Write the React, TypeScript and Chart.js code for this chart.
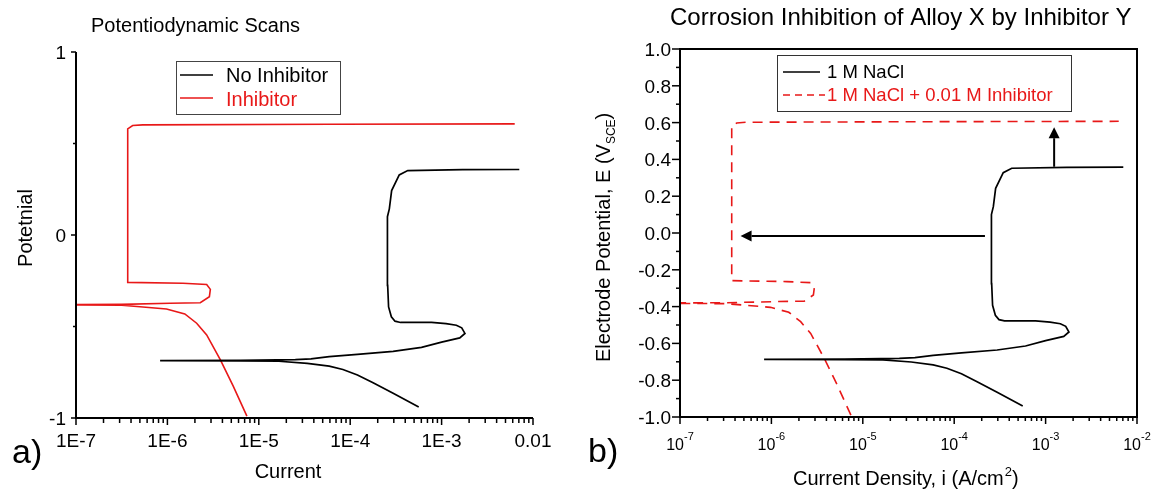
import React, { useEffect, useRef } from 'react';
import { Chart, registerables } from 'chart.js';

Chart.register(...registerables);

// ---------------- data (current in A or A/cm², potential in V) ----------------
const noInhibitorCurrent = [
  5.62e-4, 2.95e-4, 1.78e-4, 1.2e-4, 8.32e-5, 5.89e-5, 3.39e-5, 1.66e-5, 6.31e-6, 8.32e-7,
  6.31e-6, 2.51e-5, 3.72e-5, 5.89e-5, 1.2e-4, 2.95e-4, 6.03e-4, 1.0e-3, 1.58e-3, 1.8e-3,
  1.66e-3, 1.45e-3, 1.12e-3, 7.76e-4, 3.55e-4, 3.09e-4, 2.82e-4, 2.63e-4, 2.57e-4, 2.54e-4,
  2.57e-4, 2.68e-4, 2.84e-4, 3.44e-4, 4.26e-4, 1.7e-3, 7.08e-3,
];
const noInhibitorPotential = [
  -0.94, -0.865, -0.808, -0.765, -0.735, -0.717, -0.701, -0.69, -0.688, -0.687,
  -0.685, -0.681, -0.677, -0.665, -0.652, -0.636, -0.614, -0.585, -0.562, -0.538,
  -0.507, -0.493, -0.484, -0.478, -0.478, -0.471, -0.447, -0.393, -0.275, 0.0,
  0.1, 0.143, 0.243, 0.328, 0.352, 0.357, 0.358,
];
const inhibitorCurrent = [
  7.41e-6, 5.25e-6, 3.8e-6, 2.69e-6, 2.09e-6, 1.55e-6, 9.77e-7, 5.01e-7, 3.16e-7, 3.0e-8,
  3.16e-7, 1.07e-6, 2.29e-6, 2.88e-6, 2.95e-6, 2.69e-6, 1.48e-6, 3.68e-7, 3.68e-7, 4.17e-7,
  5.37e-7, 5.89e-5, 6.31e-3,
];
const inhibitorPotential = [
  -0.99, -0.826, -0.683, -0.546, -0.482, -0.431, -0.404, -0.392, -0.384, -0.381,
  -0.379, -0.373, -0.37, -0.337, -0.297, -0.27, -0.264, -0.259, 0.58, 0.598,
  0.602, 0.605, 0.607,
];

// ---------------- axes / labels ----------------
const currentDecades = [1e-7, 1e-6, 1e-5, 1e-4, 1e-3, 1e-2];
const minorMultipliers = [2, 3, 4, 5, 6, 7, 8, 9];
const panelAXTickLabels = ['1E-7', '1E-6', '1E-5', '1E-4', '1E-3', '0.01'];
const panelBXTickExponents = ['-7', '-6', '-5', '-4', '-3', '-2'];
const panelAYTicks = [-1, 0, 1];
const panelAYTickLabels = ['-1', '0', '1'];
const panelAYMinorTicks = [-0.5, 0.5];
const panelBYTicks = [-1.0, -0.8, -0.6, -0.4, -0.2, 0.0, 0.2, 0.4, 0.6, 0.8, 1.0];
const panelBYTickLabels = ['-1.0', '-0.8', '-0.6', '-0.4', '-0.2', '0.0', '0.2', '0.4', '0.6', '0.8', '1.0'];
const panelBYMinorTicks = [-0.9, -0.7, -0.5, -0.3, -0.1, 0.1, 0.3, 0.5, 0.7, 0.9];

const panelATitle = 'Potentiodynamic Scans';
const panelAXTitle = 'Current';
const panelAYTitle = 'Potetnial';
const panelALegend = ['No Inhibitor', 'Inhibitor'];
const panelBTitle = 'Corrosion Inhibition of Alloy X by Inhibitor Y';
const panelBXTitle = ['Current Density, i (A/cm', '2', ')'];
const panelBYTitle = ['Electrode Potential, E (V', 'SCE', ')'];
const panelBLegend = ['1 M NaCl', '1 M NaCl + 0.01 M Inhibitor'];

// arrows in data units: [current, potential]
const arrowLeftFrom = [2.17e-4, -0.016];
const arrowLeftTo = [4.6e-7, -0.016];
const arrowUpFrom = [1.24e-3, 0.36];
const arrowUpTo = [1.24e-3, 0.575];

const FF = '"Liberation Sans", Arial, Helvetica, sans-serif';
const RED = 'rgb(232,24,24)';
const BLACK = '#000000';

const toPoints = (xs: number[], ys: number[]) => xs.map((x, i) => ({ x, y: ys[i] }));

function line(ctx: CanvasRenderingContext2D, x1: number, y1: number, x2: number, y2: number) {
  ctx.beginPath();
  ctx.moveTo(x1, y1);
  ctx.lineTo(x2, y2);
  ctx.stroke();
}

function drawXTicks(chart: any, major: number, minor: number) {
  const ctx = chart.ctx as CanvasRenderingContext2D;
  const xs = chart.scales.x;
  const b = chart.chartArea.bottom;
  ctx.lineWidth = 1.5;
  currentDecades.forEach((d, i) => {
    const x = xs.getPixelForValue(d);
    line(ctx, x, b, x, b + major);
    if (i < currentDecades.length - 1) {
      minorMultipliers.forEach((k) => {
        const xm = xs.getPixelForValue(d * k);
        line(ctx, xm, b, xm, b + minor);
      });
    }
  });
}

function drawPanelA(chart: any) {
  const ctx = chart.ctx as CanvasRenderingContext2D;
  const xs = chart.scales.x;
  const ys = chart.scales.y;
  const a = chart.chartArea;
  ctx.save();
  ctx.strokeStyle = BLACK;
  ctx.fillStyle = BLACK;
  ctx.lineWidth = 2;
  ctx.beginPath();
  ctx.moveTo(a.left, a.top);
  ctx.lineTo(a.left, a.bottom);
  ctx.lineTo(a.right, a.bottom);
  ctx.stroke();

  // y ticks
  ctx.lineWidth = 1.5;
  ctx.font = `19px ${FF}`;
  ctx.textAlign = 'right';
  ctx.textBaseline = 'alphabetic';
  panelAYTicks.forEach((v, i) => {
    const y = ys.getPixelForValue(v);
    line(ctx, a.left - 5, y, a.left, y);
    ctx.fillText(panelAYTickLabels[i], a.left - 10, y + 7);
  });
  panelAYMinorTicks.forEach((v) => {
    const y = ys.getPixelForValue(v);
    line(ctx, a.left - 3, y, a.left, y);
  });

  // x ticks
  drawXTicks(chart, 7, 5);
  ctx.textAlign = 'center';
  ctx.font = `19px ${FF}`;
  currentDecades.forEach((d, i) => {
    ctx.fillText(panelAXTickLabels[i], xs.getPixelForValue(d), 447);
  });

  // titles
  ctx.textAlign = 'left';
  ctx.font = `20px ${FF}`;
  ctx.fillText(panelATitle, 91, 32);
  ctx.textAlign = 'center';
  ctx.fillText(panelAXTitle, 288, 478);
  ctx.save();
  ctx.translate(32, 228);
  ctx.rotate(-Math.PI / 2);
  ctx.fillText(panelAYTitle, 0, 0);
  ctx.restore();
  ctx.textAlign = 'left';
  ctx.font = `34px ${FF}`;
  ctx.fillText('a)', 12, 463);

  // legend
  ctx.lineWidth = 1;
  ctx.strokeStyle = '#444';
  ctx.strokeRect(176.5, 61.5, 164, 53);
  ctx.lineWidth = 1.6;
  ctx.strokeStyle = BLACK;
  line(ctx, 180, 75, 213, 75);
  ctx.strokeStyle = RED;
  line(ctx, 180, 98, 213, 98);
  ctx.font = `20px ${FF}`;
  ctx.fillStyle = BLACK;
  ctx.fillText(panelALegend[0], 226, 82);
  ctx.fillStyle = RED;
  ctx.fillText(panelALegend[1], 226, 106);
  ctx.restore();
}

function arrow(ctx: CanvasRenderingContext2D, x1: number, y1: number, x2: number, y2: number) {
  const ang = Math.atan2(y2 - y1, x2 - x1);
  const len = 11;
  const half = 5.5;
  const bx = x2 - Math.cos(ang) * len;
  const by = y2 - Math.sin(ang) * len;
  ctx.lineWidth = 2;
  line(ctx, x1, y1, bx, by);
  ctx.beginPath();
  ctx.moveTo(x2, y2);
  ctx.lineTo(bx - Math.sin(ang) * half, by + Math.cos(ang) * half);
  ctx.lineTo(bx + Math.sin(ang) * half, by - Math.cos(ang) * half);
  ctx.closePath();
  ctx.fill();
}

function drawPanelB(chart: any) {
  const ctx = chart.ctx as CanvasRenderingContext2D;
  const xs = chart.scales.x;
  const ys = chart.scales.y;
  const a = chart.chartArea;
  ctx.save();
  ctx.strokeStyle = BLACK;
  ctx.fillStyle = BLACK;
  ctx.lineWidth = 2;
  ctx.strokeRect(a.left, a.top, a.right - a.left, a.bottom - a.top);

  // y ticks
  ctx.lineWidth = 1.5;
  ctx.font = `19px ${FF}`;
  ctx.textAlign = 'right';
  ctx.textBaseline = 'alphabetic';
  panelBYTicks.forEach((v, i) => {
    const y = ys.getPixelForValue(v);
    line(ctx, a.left - 8, y, a.left, y);
    ctx.fillText(panelBYTickLabels[i], a.left - 9, y + 7);
  });
  panelBYMinorTicks.forEach((v) => {
    const y = ys.getPixelForValue(v);
    line(ctx, a.left - 4, y, a.left, y);
  });

  // x ticks with power-of-ten labels
  drawXTicks(chart, 7, 4);
  ctx.textAlign = 'left';
  currentDecades.forEach((d, i) => {
    const x = xs.getPixelForValue(d);
    ctx.font = `16px ${FF}`;
    const w1 = ctx.measureText('10').width;
    ctx.font = `11px ${FF}`;
    const w2 = ctx.measureText(panelBXTickExponents[i]).width;
    const x0 = x - (w1 + w2) / 2;
    ctx.font = `16px ${FF}`;
    ctx.fillText('10', x0, 450);
    ctx.font = `11px ${FF}`;
    ctx.fillText(panelBXTickExponents[i], x0 + w1, 440);
  });

  // title
  ctx.font = `24px ${FF}`;
  ctx.fillText(panelBTitle, 100, 25);

  // x title with superscript
  let xx = 223;
  ctx.font = `20px ${FF}`;
  ctx.fillText(panelBXTitle[0], xx, 485);
  xx += ctx.measureText(panelBXTitle[0]).width;
  ctx.font = `13px ${FF}`;
  ctx.fillText(panelBXTitle[1], xx + 1, 476);
  xx += ctx.measureText(panelBXTitle[1]).width + 1;
  ctx.font = `20px ${FF}`;
  ctx.fillText(panelBXTitle[2], xx, 485);

  // y title with subscript
  ctx.save();
  ctx.translate(40, 362);
  ctx.rotate(-Math.PI / 2);
  let yy = 0;
  ctx.font = `20px ${FF}`;
  ctx.fillText(panelBYTitle[0], yy, 0);
  yy += ctx.measureText(panelBYTitle[0]).width;
  ctx.font = `12px ${FF}`;
  ctx.fillText(panelBYTitle[1], yy, 5);
  yy += ctx.measureText(panelBYTitle[1]).width;
  ctx.font = `20px ${FF}`;
  ctx.fillText(panelBYTitle[2], yy, 0);
  ctx.restore();

  ctx.font = `34px ${FF}`;
  ctx.fillText('b)', 18, 462);

  // legend
  ctx.lineWidth = 1;
  ctx.strokeStyle = '#333';
  ctx.strokeRect(207.5, 55.5, 294, 56);
  ctx.lineWidth = 1.6;
  ctx.strokeStyle = BLACK;
  line(ctx, 213, 72, 250, 72);
  ctx.strokeStyle = RED;
  ctx.setLineDash([7, 5]);
  line(ctx, 213, 95, 255, 95);
  ctx.setLineDash([]);
  ctx.font = `18.5px ${FF}`;
  ctx.fillStyle = BLACK;
  ctx.fillText(panelBLegend[0], 257, 78);
  ctx.fillStyle = RED;
  ctx.fillText(panelBLegend[1], 257, 101);

  // arrows
  ctx.strokeStyle = BLACK;
  ctx.fillStyle = BLACK;
  arrow(
    ctx,
    xs.getPixelForValue(arrowLeftFrom[0]), ys.getPixelForValue(arrowLeftFrom[1]),
    xs.getPixelForValue(arrowLeftTo[0]), ys.getPixelForValue(arrowLeftTo[1]),
  );
  arrow(
    ctx,
    xs.getPixelForValue(arrowUpFrom[0]), ys.getPixelForValue(arrowUpFrom[1]),
    xs.getPixelForValue(arrowUpTo[0]), ys.getPixelForValue(arrowUpTo[1]),
  );
  ctx.restore();
}

function makeConfig(dashed: boolean, padding: any, drawFn: (c: any) => void): any {
  return {
    type: 'scatter',
    data: {
      datasets: [
        {
          label: dashed ? panelBLegend[0] : panelALegend[0],
          data: toPoints(noInhibitorCurrent, noInhibitorPotential),
          showLine: true,
          borderColor: BLACK,
          borderWidth: 1.7,
          pointRadius: 0,
          tension: 0,
        },
        {
          label: dashed ? panelBLegend[1] : panelALegend[1],
          data: toPoints(inhibitorCurrent, inhibitorPotential),
          showLine: true,
          borderColor: RED,
          borderWidth: 1.6,
          borderDash: dashed ? [10, 7] : [],
          pointRadius: 0,
          tension: 0,
        },
      ],
    },
    options: {
      animation: false,
      responsive: false,
      maintainAspectRatio: false,
      devicePixelRatio: 1,
      events: [],
      layout: { padding },
      scales: {
        x: { type: 'logarithmic', min: 1e-7, max: 1e-2, display: false },
        y: { type: 'linear', min: -1, max: 1, display: false },
      },
      plugins: {
        legend: { display: false },
        title: { display: false },
        tooltip: { enabled: false },
      },
    },
    plugins: [{ id: dashed ? 'panelB' : 'panelA', afterDraw: (c: any) => drawFn(c) }],
  };
}

export default function App() {
  const refA = useRef<HTMLCanvasElement>(null);
  const refB = useRef<HTMLCanvasElement>(null);

  useEffect(() => {
    const chartA = new Chart(
      refA.current as HTMLCanvasElement,
      makeConfig(false, { left: 76, right: 37, top: 52, bottom: 73 }, drawPanelA),
    );
    const chartB = new Chart(
      refB.current as HTMLCanvasElement,
      makeConfig(true, { left: 110, right: 19, top: 49, bottom: 74 }, drawPanelB),
    );
    return () => {
      chartA.destroy();
      chartB.destroy();
    };
  }, []);

  return (
    <div style={{ position: 'absolute', left: 0, top: 0, width: 1156, height: 491, background: '#fff' }}>
      <canvas
        ref={refA}
        width={570}
        height={491}
        style={{ position: 'absolute', left: 0, top: 0, width: 570, height: 491 }}
      />
      <canvas
        ref={refB}
        width={586}
        height={491}
        style={{ position: 'absolute', left: 570, top: 0, width: 586, height: 491 }}
      />
    </div>
  );
}
